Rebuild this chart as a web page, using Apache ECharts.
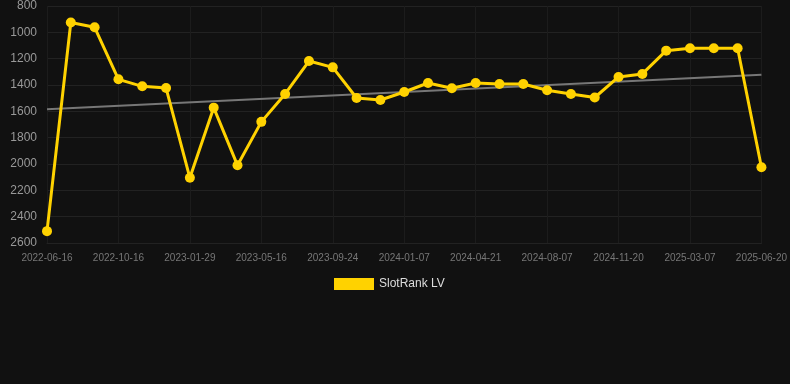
<!DOCTYPE html>
<html>
<head>
<meta charset="utf-8">
<script src="https://cdn.jsdelivr.net/npm/echarts@6/dist/echarts.min.js"></script>
<style>
html,body{margin:0;padding:0;background:#111111;}
#chart{width:790px;height:384px;}
</style>
</head>
<body>
<div id="chart"></div>
<script>
const categories = [
  '2022-06-16','2022-07-27','2022-09-06','2022-10-16','2022-11-21','2022-12-25',
  '2023-01-29','2023-03-07','2023-04-10','2023-05-16','2023-06-29','2023-08-11',
  '2023-09-24','2023-10-29','2023-12-03','2024-01-07','2024-02-13','2024-03-18',
  '2024-04-21','2024-05-28','2024-07-02','2024-08-07','2024-09-12','2024-10-16',
  '2024-11-20','2024-12-26','2025-01-31','2025-03-07','2025-04-12','2025-05-16',
  '2025-06-20'
];
const rankValues = [
  2510, 925, 962, 1357, 1410, 1423,
  2105, 1572, 2010, 1680, 1468, 1218,
  1266, 1499, 1514, 1453, 1385, 1425,
  1385, 1392, 1392, 1440, 1468, 1495,
  1339, 1316, 1139, 1121, 1121, 1121,
  2025
];
const trendStart = 1585;
const trendEnd = 1322;
const yTicks = { min: 800, max: 2600, interval: 200 };

const trendData = categories.map((c, i) => i === 0 ? trendStart : (i === categories.length - 1 ? trendEnd : null));

const chart = echarts.init(document.getElementById('chart'));
chart.setOption({
  backgroundColor: '#111111',
  animation: false,
  grid: { left: 47, right: 28, top: 6, bottom: 141, containLabel: false },
  legend: {
    data: ['SlotRank LV'],
    top: 273,
    left: 329,
    icon: 'rect',
    itemWidth: 40,
    itemHeight: 12,
    itemGap: 6,
    textStyle: { color: '#dddddd', fontSize: 12, fontFamily: 'Liberation Sans, Arial, sans-serif' }
  },
  xAxis: {
    type: 'category',
    data: categories,
    boundaryGap: false,
    axisLine: { show: true, lineStyle: { color: '#222222' } },
    axisTick: { show: false },
    axisLabel: { interval: 2, color: '#777777', fontSize: 10, margin: 10, fontFamily: 'Liberation Sans, Arial, sans-serif' },
    splitLine: { show: true, interval: 2, lineStyle: { color: '#1c1c1c', width: 1 } }
  },
  yAxis: {
    type: 'value',
    inverse: true,
    min: yTicks.min,
    max: yTicks.max,
    interval: yTicks.interval,
    axisLine: { show: false },
    axisTick: { show: false },
    axisLabel: { color: '#999999', fontSize: 12, margin: 10, formatter: v => String(v), fontFamily: 'Liberation Sans, Arial, sans-serif' },
    splitLine: { show: true, lineStyle: { color: '#222222', width: 1 } }
  },
  series: [
    {
      name: 'Trend',
      type: 'line',
      data: trendData,
      connectNulls: true,
      symbol: 'none',
      lineStyle: { color: '#777777', width: 2 },
      z: 1,
      silent: true
    },
    {
      name: 'SlotRank LV',
      type: 'line',
      data: rankValues,
      symbol: 'circle',
      symbolSize: 10,
      itemStyle: { color: '#FFD200' },
      lineStyle: { color: '#FFD200', width: 3 },
      z: 2
    }
  ]
});
</script>
</body>
</html>
